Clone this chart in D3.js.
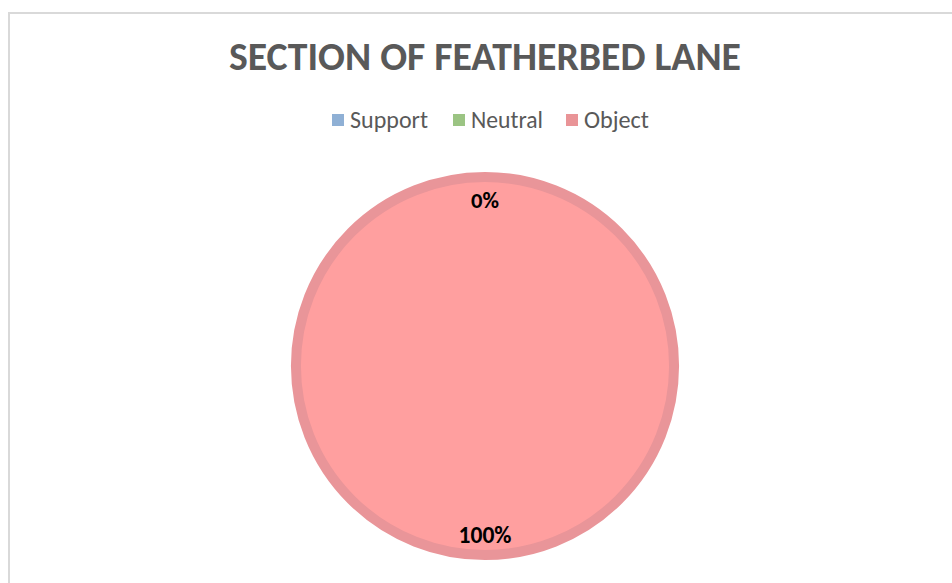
<!DOCTYPE html>
<html><head><meta charset="utf-8">
<script src="https://cdn.jsdelivr.net/npm/d3@7"></script>
<style>body{margin:0;background:#fff;}svg{display:block;}</style>
</head><body>
<svg id="c" width="952" height="583"></svg>
<script>
const categories = ["Support", "Neutral", "Object"];
const values = [0, 0, 100];
const colors = ["#8FB0D5", "#9BC483", "#FF9F9F"];
const legendColors = ["#8FB0D5", "#9BC483", "#E99497"];
const ringColor = "#E99599";
const labels = ["0%", "100%"];
const title = "SECTION OF FEATHERBED LANE";

const svg = d3.select("#c");
svg.append("rect").attr("x", 9).attr("y", 13).attr("width", 1000).attr("height", 1000)
  .attr("fill", "#fff").attr("stroke", "#D9D9D9").attr("stroke-width", 2);

const font = "Calibri, Carlito, 'Open Sans', sans-serif";
const t = svg.append("text").attr("x", 485).attr("y", 70).attr("text-anchor", "middle")
  .attr("font-family", font).attr("font-weight", "bold").attr("font-size", 32)
  .attr("fill", "#595959").text(title);
t.attr("font-size", 32 * 512 / t.node().getComputedTextLength());

// legend
const lx = [332, 453, 566];
const targetW = [78, 72, 65];
const lg = svg.append("g");
categories.forEach((c, i) => {
  lg.append("rect").attr("x", lx[i]).attr("y", 114).attr("width", 12).attr("height", 12).attr("fill", legendColors[i]);
  const tx = lg.append("text").attr("x", lx[i] + 18).attr("y", 128).attr("font-family", font)
    .attr("font-size", 20).attr("fill", "#595959").text(c);
  tx.attr("font-size", 20 * targetW[i] / tx.node().getComputedTextLength());
});

// pie
const cx = 485, cy = 366, R = 194, ring = 10;
const pie = d3.pie().sort(null).value(d => d)(values);
const g = svg.append("g").attr("transform", `translate(${cx},${cy})`);
const arc = d3.arc().innerRadius(0).outerRadius(R - ring / 2);
g.selectAll("path.s").data(pie).join("path").attr("class", "s")
  .attr("d", arc).attr("fill", (d, i) => colors[i])
  .attr("stroke", ringColor).attr("stroke-width", d => d.value > 0 ? ring : 0);

// data labels
const shown = [pie[0], pie[2]];
const labelW = [28, 53];
shown.forEach((d, i) => {
  const y = d.value === 0 ? -158 : 177;
  const lt = g.append("text").attr("x", 0).attr("y", y).attr("text-anchor", "middle")
    .attr("font-family", font).attr("font-weight", "bold").attr("font-size", 20)
    .attr("fill", "#000").text(labels[i]);
  lt.attr("font-size", 20 * labelW[i] / lt.node().getComputedTextLength());
});
</script>
</body></html>
